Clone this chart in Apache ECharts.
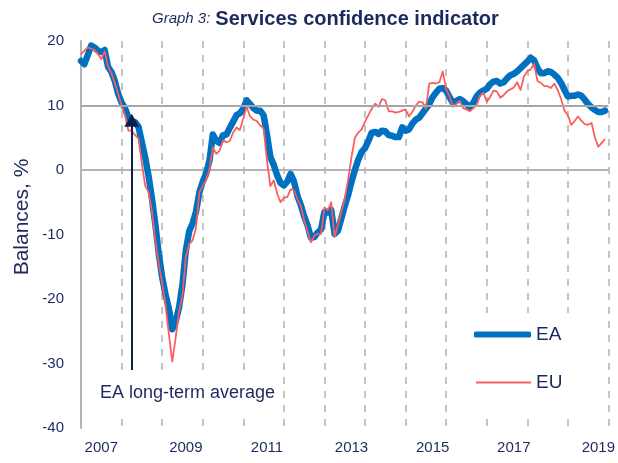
<!DOCTYPE html>
<html>
<head>
<meta charset="utf-8">
<script src="https://cdn.jsdelivr.net/npm/echarts@6/dist/echarts.min.js"></script>
<style>
  html, body { margin: 0; padding: 0; background: #fff; }
  #chart { width: 618px; height: 463px; }
</style>
</head>
<body>
<div id="chart"></div>
<script>
  // monthly, Jan 2007 .. Dec 2019
  const ea = [
    16.9, 16.4, 17.8, 19.3, 19.0, 18.5, 18.3, 18.6, 16.0, 15.2, 13.8, 11.8,
    10.5, 9.6, 8.2, 7.6, 7.4, 6.7, 4.3, 1.9, -1.0, -4.5, -8.5, -13.0,
    -16.6, -19.3, -21.5, -24.7, -23.5, -21.3, -17.8, -12.5, -9.5, -8.3, -6.5, -3.5,
    -1.8, -0.6, 1.5, 5.5, 4.5, 4.2, 5.4, 5.5, 6.5, 7.5, 8.5, 8.8,
    9.5, 10.8, 10.2, 9.6, 9.2, 9.2, 8.5, 5.5, 2.0, 0.8, -0.8, -2.0,
    -2.4, -1.8, -0.6, -1.8, -4.0, -5.4, -7.2, -8.6, -10.5, -10.4, -9.7, -9.2,
    -6.5, -6.6, -6.2, -9.9, -9.4, -7.5, -5.6, -3.9, -1.8, 0.0, 1.6, 2.8,
    3.4, 4.5, 5.8, 5.9, 5.6, 6.1, 6.0, 5.4, 5.3, 5.1, 5.1, 6.6,
    6.1, 6.3, 7.2, 7.8, 8.1, 8.8, 9.5, 10.2, 11.3, 12.0, 12.6, 12.7,
    12.3, 11.3, 10.4, 10.7, 11.0, 10.7, 10.2, 9.7, 10.4, 11.4, 12.0, 12.3,
    12.6, 13.3, 13.7, 13.8, 13.4, 13.6, 14.2, 14.7, 14.9, 15.3, 15.8, 16.3,
    16.8, 17.4, 17.0, 15.8, 15.0, 15.0, 15.3, 15.2, 14.8, 14.3, 13.5, 12.4,
    11.4, 11.5, 11.5, 11.7, 11.5, 10.9, 10.2, 9.7, 9.3, 9.0, 9.0, 9.2
  ]
  const eu = [
    17.9, 18.5, 19.0, 18.8, 18.6, 18.0, 17.2, 18.4, 16.0, 15.0, 13.5, 11.8,
    10.0, 8.5, 6.1, 6.1, 5.4, 4.9, 1.0, -2.5, -3.4, -6.5, -11.0, -14.5,
    -17.5, -21.0, -25.5, -29.7, -26.0, -22.0, -19.5, -13.5, -11.5, -10.9, -9.0, -3.5,
    -2.5, -1.6, 0.2, 3.5, 2.5, 3.0, 4.6, 4.3, 4.5, 5.8, 6.6, 6.2,
    8.0, 9.8, 8.3, 7.8, 7.6, 6.9, 6.5, 1.5, -2.5, -1.6, -3.6, -5.0,
    -4.3, -4.2, -3.0, -3.1, -4.5, -5.6, -7.8, -9.5, -11.2, -10.2, -9.9, -9.9,
    -5.8, -6.2, -5.0, -10.4, -8.5, -6.5, -4.5, -1.5, 2.0, 5.0, 5.8, 6.3,
    7.5, 8.5, 9.5, 10.3, 9.8, 11.0, 10.8, 9.1, 9.1, 8.9, 9.0, 9.2,
    9.4, 8.3, 9.0, 10.0, 10.6, 10.5, 9.5, 13.4, 13.5, 13.4, 13.6, 15.3,
    12.5, 11.4, 9.8, 10.3, 10.7, 9.6, 9.4, 9.1, 9.6, 10.0, 11.5, 12.0,
    10.6, 11.3, 12.3, 12.2, 11.2, 11.6, 12.2, 12.5, 12.8, 13.6, 12.4, 14.5,
    15.3, 15.6, 16.5, 13.8, 13.5, 13.0, 13.0, 12.7, 13.4, 12.4, 11.0, 9.2,
    8.5, 7.0, 7.6, 8.3, 7.6, 7.1, 7.0, 7.3, 5.0, 3.6, 4.2, 4.8
  ]
  // month where each year label sits (labels drift slightly right in the original)
  const tickLabelMonths = ['2007-07', '2009-08', '2011-08', '2013-09', '2015-09', '2017-09', '2019-10']
  const longTermAvg = 10
  const arrowMonth = '2008-04'
  const arrowFrom = -31
  const arrowTo = 7.7

  let months = []
  for (let y = 2007; y <= 2020; y++) {
    for (let m = 1; m <= 12; m++) {
      if (y === 2020 && m > 1) break
      months.push(y + '-' + String(m).padStart(2, '0'))
    }
  }

  const navy = '#1b2a5e'
  const font = "'Liberation Sans Narrow', 'Arial Narrow', 'Liberation Sans', sans-serif"
  const eaColor = '#0070c0'
  const euColor = '#ff5a5a'

  let myChart = echarts.init(document.getElementById('chart'))
  let option = {
    animation: false,
    textStyle: { fontFamily: font },
    title: {
      text: '{a|Graph 3:} {b|Services confidence indicator}',
      left: 147,
      top: 4,
      textStyle: {
        rich: {
          a: { fontFamily: font, fontStyle: 'italic', fontWeight: 'normal', fontSize: 15, color: navy },
          b: { fontFamily: font, fontWeight: 'bold', fontSize: 20, color: navy }
        }
      }
    },
    legend: [
      {
        data: [{ name: 'EA', icon: 'roundRect' }],
        left: 456,
        top: 313,
        padding: [12, 40, 26, 18],
        backgroundColor: '#fff',
        itemWidth: 57,
        itemHeight: 6,
        textStyle: { color: navy, fontSize: 19, fontFamily: font }
      },
      {
        data: [{ name: 'EU', icon: 'rect' }],
        left: 456,
        top: 361,
        padding: [12, 42, 20, 20],
        backgroundColor: '#fff',
        itemWidth: 55,
        itemHeight: 2,
        textStyle: { color: navy, fontSize: 19, fontFamily: font }
      }
    ],
    grid: { left: 81, right: 8, top: 41, bottom: 35 },
    xAxis: {
      type: 'category',
      data: months,
      boundaryGap: false,
      axisLine: { lineStyle: { color: '#b4b4b4', width: 2 } },
      axisTick: { show: false },
      axisLabel: {
        interval: (idx, val) => tickLabelMonths.includes(val),
        formatter: val => val.slice(0, 4),
        color: navy,
        fontSize: 15,
        margin: 12,
        fontFamily: font
      },
      splitLine: {
        show: true,
        interval: idx => idx % 12 === 0,
        lineStyle: { color: '#c4c4c4', width: 2, type: [7, 7] }
      }
    },
    yAxis: {
      type: 'value',
      min: -40,
      max: 20,
      interval: 10,
      axisLine: { show: true, lineStyle: { color: '#b4b4b4', width: 2 } },
      axisTick: { show: false },
      splitLine: { show: false },
      axisLabel: { color: navy, fontSize: 15, margin: 17, fontFamily: font }
    },
    series: [
      {
        name: 'EA',
        type: 'line',
        data: ea,
        showSymbol: false,
        symbol: 'none',
        color: eaColor,
        lineStyle: { width: 6.5, color: eaColor, cap: 'round', join: 'round' },
        markLine: {
          silent: true,
          symbol: 'none',
          label: { show: false },
          lineStyle: { color: '#a6a6a6', width: 2, type: 'solid' },
          data: [{ yAxis: longTermAvg }]
        },
        z: 2
      },
      {
        name: 'EU',
        type: 'line',
        data: eu,
        showSymbol: false,
        symbol: 'none',
        color: euColor,
        lineStyle: { width: 1.75, color: euColor, join: 'round' },
        markLine: {
          silent: true,
          symbol: ['none', 'triangle'],
          symbolSize: [15, 13],
          label: { show: false },
          lineStyle: { color: '#0d1f4f', width: 2, type: 'solid' },
          data: [[{ coord: [arrowMonth, arrowFrom] }, { coord: [arrowMonth, arrowTo] }]]
        },
        z: 3
      }
    ],
    graphic: [
      // y axis title
      {
        type: 'text',
        x: 22,
        y: 217,
        rotation: Math.PI / 2,
        style: { text: 'Balances, %', fill: navy, fontSize: 21, fontFamily: font, align: 'center', verticalAlign: 'middle' }
      },
      // white box behind the annotation, as in the original
      {
        type: 'rect',
        left: 95,
        top: 371,
        shape: { width: 186, height: 42 },
        style: { fill: '#fff' },
        z: 10
      },
      {
        type: 'text',
        left: 100,
        top: 384,
        style: { text: 'EA long-term average', fill: navy, fontSize: 18, fontFamily: font },
        z: 11
      }
    ]
  }
  myChart.setOption(option)
</script>
</body>
</html>
